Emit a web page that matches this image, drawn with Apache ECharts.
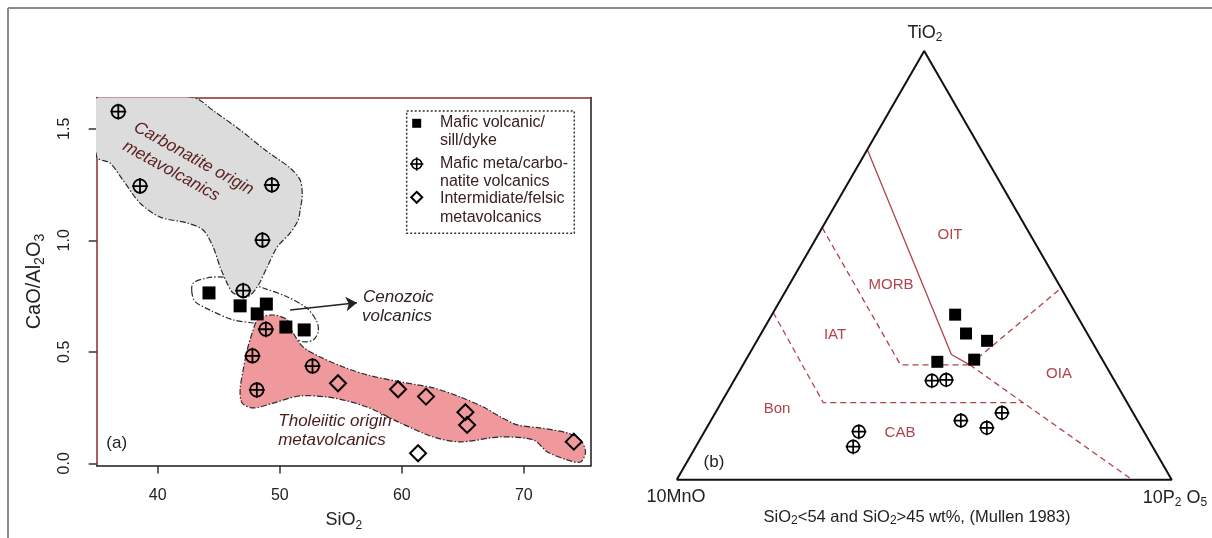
<!DOCTYPE html>
<html><head><meta charset="utf-8">
<script src="https://cdn.jsdelivr.net/npm/echarts@6/dist/echarts.min.js"></script>
<style>html,body{margin:0;padding:0;background:#fff}#c{width:1212px;height:538px}</style>
</head><body><div id="c"></div>
<script>
const FONT = '"Liberation Sans", Arial, Helvetica, sans-serif';

// ---------- (a) SiO2 vs CaO/Al2O3 ----------
const xTicks = [40, 50, 60, 70];
const yTicks = [0, 0.5, 1.0, 1.5];
const maficSiO2  = [44.2, 46.75, 48.15, 48.9, 50.5, 52.0];
const maficCaAl  = [0.764, 0.706, 0.670, 0.714, 0.611, 0.598];
const carbSiO2   = [36.77, 38.55, 49.35, 48.58, 47.0, 48.86, 47.76, 48.12, 52.68];
const carbCaAl   = [1.577, 1.243, 1.248, 1.001, 0.774, 0.601, 0.482, 0.329, 0.436];
const felsicSiO2 = [54.77, 59.69, 61.98, 65.21, 65.35, 61.33, 74.09];
const felsicCaAl = [0.359, 0.332, 0.299, 0.229, 0.172, 0.045, 0.097];

// field outlines, in data units [SiO2, CaO/Al2O3]
const carbField = [[35,1.64],[42.9,1.64],[44.7,1.575],[46.75,1.495],[48.8,1.405],[50.85,1.324],[51.67,1.27],[51.84,1.203],[51.67,1.136],[51.51,1.091],[50.85,1.033],[49.79,0.97],[48.97,0.88],[48.15,0.791],[47.33,0.746],[46.18,0.764],[45.68,0.808],[45.11,0.88],[44.54,0.97],[43.72,1.046],[42.4,1.078],[40.19,1.104],[38.55,1.167],[37.15,1.27],[36.09,1.347],[35,1.374]];
const tholField = [[48.23,0.647],[49.46,0.665],[50.61,0.643],[51.1,0.584],[51.92,0.521],[53.31,0.477],[55.2,0.432],[57.17,0.396],[59.88,0.365],[62.58,0.338],[64.8,0.297],[66.68,0.252],[68.08,0.208],[69.47,0.172],[71.36,0.158],[73.57,0.136],[74.64,0.104],[75.05,0.051],[74.64,0.006],[73.57,0.015],[71.93,0.051],[70.79,0.104],[68.08,0.118],[64.8,0.096],[62.58,0.118],[59.88,0.181],[57.17,0.252],[54.38,0.293],[51.67,0.302],[49.46,0.27],[47.82,0.248],[46.92,0.27],[46.75,0.329],[47.0,0.418],[47.33,0.508],[47.74,0.584]];
const cenozoicField = [[42.79,0.77],[42.9,0.808],[44.02,0.831],[45.36,0.835],[47.16,0.813],[48.64,0.786],[50.58,0.747],[52.22,0.696],[53.04,0.635],[53.15,0.59],[52.74,0.553],[51.92,0.545],[50.85,0.568],[49.46,0.607],[47.82,0.629],[46.18,0.643],[44.29,0.687],[43.06,0.725]];
const cenozoicArrow = [[50.85,0.687],[56.32,0.720]];

// ---------- (b) TiO2 - 10MnO - 10P2O5 (Mullen 1983) ----------
// each entry: [TiO2, 10MnO, 10P2O5] (%)
const apexTi = [100, 0, 0], apexMn = [0, 100, 0], apexP = [0, 0, 100];
const maficTern = [[38.5,24.5,37.0],[34.1,24.5,41.4],[32.4,21.1,46.5],[27.5,33.6,38.9],[28.0,25.9,46.1]];
const carbTern  = [[23.1,36.9,40.0],[23.3,33.9,42.8],[13.8,35.7,50.5],[12.1,31.3,56.6],[15.6,26.5,57.9],[11.2,57.6,31.2],[7.7,60.5,31.8]];
const lineOitMorb = [[77.0,23.0,0],[29.2,29.9,40.9],[26.8,27.4,45.8]];
const lineMorbIat = [[58.8,41.2,0],[26.8,41.4,31.8],[26.8,27.4,45.8]];
const lineOiaOit  = [[26.8,27.4,45.8],[44.7,0,55.3]];
const lineCabOia  = [[26.8,27.4,45.8],[0,8.0,92.0]];
const lineIatBon  = [[39.0,61.0,0],[18.0,61.4,20.6],[18.0,21.0,61.0]];

function tern(c) {
  const s = c[0] + c[1] + c[2];
  const t = c[0] / s, p = c[2] / s;
  return [p + t / 2, t * Math.sqrt(3) / 2];
}
const zip = (a, b) => a.map((v, i) => [v, b[i]]);

const CROSS = 'path://M2,12A10,10 0 1 1 22,12A10,10 0 1 1 2,12ZM12,0L12,24M0,12L24,12';
const FIELD_RED = '#b3424a';
const subRich = (fs) => ({
  a: { fontSize: fs, lineHeight: fs + 4, fontFamily: FONT, color: '#222' },
  b: { fontSize: Math.round(fs * 0.68), lineHeight: Math.round(fs * 0.68), verticalAlign: 'bottom', fontFamily: FONT, color: '#222' }
});

function polySeries(pts, style, z) {
  return {
    type: 'custom', xAxisIndex: 0, yAxisIndex: 0, clip: true, silent: true, z: z,
    data: [[40, 0.5]],
    renderItem: (params, api) => ({
      type: 'polygon',
      shape: { points: pts.map(p => api.coord(p)), smooth: 0.3 },
      style: style
    })
  };
}
function ternLine(pts, dashed) {
  return {
    type: 'line', xAxisIndex: 2, yAxisIndex: 2, data: pts.map(tern), symbol: 'none', clip: false, silent: true,
    lineStyle: { color: FIELD_RED, width: 1.3, type: dashed ? [6, 4] : 'solid' }, z: 3
  };
}
const outline = { stroke: '#2a2a2a', lineWidth: 1.2, lineDash: [6, 2, 1.5, 2] };

function txt(x, y, text, o) {
  o = o || {};
  return {
    type: 'text', x: x, y: y, rotation: o.rot || 0, silent: true, z: 50,
    style: {
      text: text, fill: o.color || '#222', align: o.align || 'center', verticalAlign: 'middle',
      font: (o.italic ? 'italic ' : '') + (o.size || 16) + 'px ' + FONT, rich: o.rich
    }
  };
}

const chart = echarts.init(document.getElementById('c'));
const option = {
  animation: false,
  backgroundColor: '#fff',
  textStyle: { fontFamily: FONT },
  grid: [
    { left: 96.7, top: 97.6, width: 494.3, height: 367.9 },
    { left: 676.7, top: 51, width: 495, height: 428.7 }
  ],
  xAxis: [
    {
      gridIndex: 0, type: 'value', min: 35, max: 75.5, position: 'bottom',
      axisLine: { show: true, onZero: false, lineStyle: { color: '#1a1a1a', width: 1.5 } },
      axisTick: { show: true, length: 8, customValues: xTicks, lineStyle: { color: '#333', width: 1.5 } },
      axisLabel: { customValues: xTicks, fontSize: 16, color: '#222', margin: 22, fontFamily: FONT },
      splitLine: { show: false },
      name: '{a|SiO}{b|2}', nameLocation: 'middle', nameGap: 44,
      nameTextStyle: { rich: subRich(18) }
    },
    {
      gridIndex: 0, type: 'value', min: 35, max: 75.5, position: 'top',
      axisLine: { show: true, onZero: false, lineStyle: { color: '#8b2a2a', width: 1.5 } },
      axisTick: { show: false }, axisLabel: { show: false }, splitLine: { show: false }
    },
    { gridIndex: 1, type: 'value', min: 0, max: 1, show: false }
  ],
  yAxis: [
    {
      gridIndex: 0, type: 'value', min: -0.01, max: 1.64, position: 'left',
      axisLine: { show: true, onZero: false, lineStyle: { color: '#8b2a2a', width: 1.5 } },
      axisTick: { show: true, length: 8, customValues: yTicks, lineStyle: { color: '#333', width: 1.5 } },
      axisLabel: { customValues: yTicks, rotate: 90, fontSize: 16, color: '#222', margin: 24, fontFamily: FONT,
        formatter: v => Number(v).toFixed(1) },
      splitLine: { show: false },
      name: '{a|CaO/Al}{b|2}{a|O}{b|3}', nameLocation: 'middle', nameRotate: 90, nameGap: 50,
      nameTextStyle: { rich: subRich(20) }
    },
    {
      gridIndex: 0, type: 'value', min: -0.01, max: 1.64, position: 'right',
      axisLine: { show: true, onZero: false, lineStyle: { color: '#1a1a1a', width: 1.5 } },
      axisTick: { show: false }, axisLabel: { show: false }, splitLine: { show: false }
    },
    { gridIndex: 1, type: 'value', min: 0, max: Math.sqrt(3) / 2, show: false }
  ],
  series: [
    polySeries(cenozoicField, Object.assign({ fill: 'none' }, outline), 1),
    polySeries(carbField, Object.assign({ fill: '#dcdcdc' }, outline), 2),
    polySeries(tholField, Object.assign({ fill: '#ef999d' }, outline), 2),
    {
      type: 'lines', coordinateSystem: 'cartesian2d', xAxisIndex: 0, yAxisIndex: 0, silent: true, z: 4,
      data: [{ coords: cenozoicArrow }], symbol: ['none', 'arrow'], symbolSize: 11,
      lineStyle: { color: '#222', width: 1.5, opacity: 1 }
    },
    {
      name: 'Mafic volcanic/sill/dyke', type: 'scatter', xAxisIndex: 0, yAxisIndex: 0, z: 6,
      data: zip(maficSiO2, maficCaAl), symbol: 'rect', symbolSize: 13, itemStyle: { color: '#000', opacity: 1 }
    },
    {
      name: 'Mafic meta/carbonatite volcanics', type: 'scatter', xAxisIndex: 0, yAxisIndex: 0, z: 6,
      data: zip(carbSiO2, carbCaAl), symbol: CROSS, symbolSize: 16,
      itemStyle: { color: 'rgba(0,0,0,0)', borderColor: '#000', borderWidth: 1.8, opacity: 1 }
    },
    {
      name: 'Intermidiate/felsic metavolcanics', type: 'scatter', xAxisIndex: 0, yAxisIndex: 0, z: 6,
      data: zip(felsicSiO2, felsicCaAl), symbol: 'diamond', symbolSize: 16,
      itemStyle: { color: 'rgba(0,0,0,0)', borderColor: '#000', borderWidth: 2, opacity: 1 }
    },
    {
      type: 'line', xAxisIndex: 2, yAxisIndex: 2, data: [apexMn, apexP, apexTi, apexMn].map(tern),
      symbol: 'none', clip: false, silent: true, lineStyle: { color: '#111', width: 2 }, z: 4
    },
    ternLine(lineOitMorb, false),
    ternLine(lineMorbIat, true),
    ternLine(lineOiaOit, true),
    ternLine(lineCabOia, true),
    ternLine(lineIatBon, true),
    {
      type: 'scatter', xAxisIndex: 2, yAxisIndex: 2, z: 6, data: maficTern.map(tern),
      symbol: 'rect', symbolSize: 12, itemStyle: { color: '#000', opacity: 1 }
    },
    {
      type: 'scatter', xAxisIndex: 2, yAxisIndex: 2, z: 6, data: carbTern.map(tern),
      symbol: CROSS, symbolSize: 15, itemStyle: { color: 'rgba(0,0,0,0)', borderColor: '#000', borderWidth: 1.7, opacity: 1 }
    }
  ],
  graphic: [
    // figure frame
    { type: 'line', shape: { x1: 8, y1: 8, x2: 1212, y2: 8 }, style: { stroke: '#8a8a8a', lineWidth: 2 }, silent: true },
    { type: 'line', shape: { x1: 8, y1: 8, x2: 8, y2: 538 }, style: { stroke: '#8a8a8a', lineWidth: 2 }, silent: true },
    // legend (a)
    { type: 'rect', shape: { x: 406.7, y: 111, width: 167.6, height: 122.3 }, style: { fill: 'none', stroke: '#333', lineWidth: 1.5, lineDash: [2, 2] }, silent: true, z: 40 },
    { type: 'rect', shape: { x: 412.2, y: 118.8, width: 9, height: 9 }, style: { fill: '#000' }, silent: true, z: 41 },
    { type: 'circle', shape: { cx: 416.7, cy: 164, r: 5 }, style: { fill: 'none', stroke: '#000', lineWidth: 1.6 }, silent: true, z: 41 },
    { type: 'line', shape: { x1: 410, y1: 164, x2: 423.4, y2: 164 }, style: { stroke: '#000', lineWidth: 1.6 }, silent: true, z: 41 },
    { type: 'line', shape: { x1: 416.7, y1: 157.3, x2: 416.7, y2: 170.7 }, style: { stroke: '#000', lineWidth: 1.6 }, silent: true, z: 41 },
    { type: 'polygon', shape: { points: [[416.7, 191.8], [422.2, 197.3], [416.7, 202.8], [411.2, 197.3]] }, style: { fill: 'none', stroke: '#000', lineWidth: 2 }, silent: true, z: 41 },
    txt(440, 123, 'Mafic volcanic/', { align: 'left', color: '#3a2020' }),
    txt(440, 141, 'sill/dyke', { align: 'left', color: '#3a2020' }),
    txt(440, 164, 'Mafic meta/carbo-', { align: 'left', color: '#3a2020' }),
    txt(440, 182, 'natite volcanics', { align: 'left', color: '#3a2020' }),
    txt(440, 199, 'Intermidiate/felsic', { align: 'left', color: '#3a2020' }),
    txt(440, 218, 'metavolcanics', { align: 'left', color: '#3a2020' }),
    // field names (a)
    txt(135, 126, 'Carbonatite origin', { align: 'left', italic: true, size: 17, color: '#5c2222', rot: -29 * Math.PI / 180 }),
    txt(124, 145, 'metavolcanics', { align: 'left', italic: true, size: 17, color: '#5c2222', rot: -29 * Math.PI / 180 }),
    txt(335, 421, 'Tholeiitic origin', { italic: true, size: 17, color: '#4a1c1c' }),
    txt(332, 440, 'metavolcanics', { italic: true, size: 17, color: '#4a1c1c' }),
    txt(363, 297, 'Cenozoic', { align: 'left', italic: true, size: 17, color: '#2b2222' }),
    txt(362, 316, 'volcanics', { align: 'left', italic: true, size: 17, color: '#2b2222' }),
    txt(116.7, 443, '(a)', { size: 17, color: '#222' }),
    // ternary (b)
    txt(925, 33, '{a|TiO}{b|2}', { rich: subRich(18) }),
    txt(676, 497, '10MnO', { size: 18 }),
    txt(1175, 498, '{a|10P}{b|2}{a| O}{b|5}', { rich: subRich(18) }),
    txt(714, 462, '(b)', { size: 17 }),
    txt(917, 517, '{c|SiO}{d|2}{c|<54 and SiO}{d|2}{c|>45 wt%, (Mullen 1983)}', {
      rich: {
        c: { fontSize: 16.5, lineHeight: 20, fontFamily: FONT, color: '#222' },
        d: { fontSize: 12, lineHeight: 12, verticalAlign: 'bottom', fontFamily: FONT, color: '#222' }
      }
    }),
    txt(950, 235, 'OIT', { size: 15, color: FIELD_RED }),
    txt(891, 285, 'MORB', { size: 15, color: FIELD_RED }),
    txt(835, 335, 'IAT', { size: 15, color: FIELD_RED }),
    txt(1059, 374, 'OIA', { size: 15, color: FIELD_RED }),
    txt(777, 409, 'Bon', { size: 15, color: FIELD_RED }),
    txt(900, 433, 'CAB', { size: 15, color: FIELD_RED })
  ]
};
chart.setOption(option);
</script>
</body></html>
